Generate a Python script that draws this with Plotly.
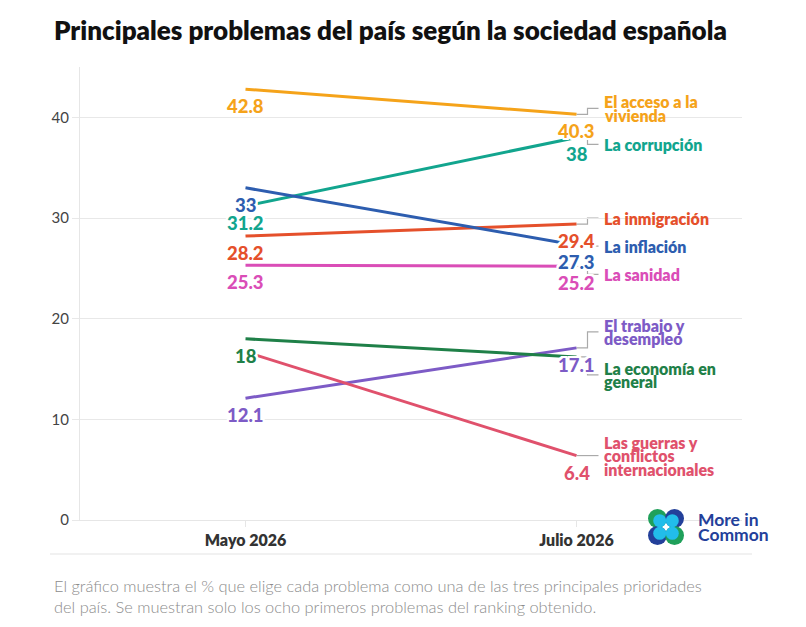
import plotly.graph_objects as go

# ---------------- data ----------------
periods = ["Mayo 2026", "Julio 2026"]
problems = [
    "El acceso a la vivienda",
    "La corrupción",
    "La inmigración",
    "La inflación",
    "La sanidad",
    "El trabajo y desempleo",
    "La economía en general",
    "Las guerras y conflictos internacionales",
]
mayo = [42.8, 31.2, 28.2, 33.0, 25.3, 12.1, 18.0, 16.7]
julio = [40.3, 38.0, 29.4, 27.3, 25.2, 17.1, 16.2, 6.4]
y_ticks = [0, 10, 20, 30, 40]

title_text = "Principales problemas del país según la sociedad española"
footer_lines = [
    "El gráfico muestra el % que elige cada problema como una de las tres principales prioridades",
    "del país. Se muestran solo los ocho primeros problemas del ranking obtenido.",
]

# ---------------- styling / layout ----------------
colors = ["#F5A31A", "#12A58E", "#E5502B", "#2D5DAF", "#DA4DB7", "#7D5BC6", "#1F8048", "#E0516C"]
# which value labels are displayed (others hidden due to overlap)
show_left = [True, True, True, True, True, True, True, False]
show_right = [True, True, True, True, True, True, False, True]
# right label lines and their vertical offsets (px, positive = up) relative to end point
right_lines = [
    ["El acceso a la", "vivienda"],
    ["La corrupción"],
    ["La inmigración"],
    ["La inflación"],
    ["La sanidad"],
    ["El trabajo y", "desempleo"],
    ["La economía en", "general"],
    ["Las guerras y", "conflictos", "internacionales"],
]
right_center = [6, -7, 6, -1, -8, 16, -18, 0]
LINE_H = 13.5

W, H = 806, 627
L, R, T, B = 80, 64, 67, 107
PW, PH = W - L - R, H - T - B


def px_x(px):
    return (px - L) / PW


def px_y(py):
    return (H - B - py) / PH


FONT = "Lato"
halo = ", ".join(f"{dx}px {dy}px 0 #fff" for dx in (-2, -1, 0, 1, 2) for dy in (-2, -1, 0, 1, 2) if dx or dy)

fig = go.Figure()
for name, a, b, c in zip(problems, mayo, julio, colors):
    fig.add_trace(go.Scatter(x=periods, y=[a, b], mode="lines", name=name,
                             line=dict(color=c, width=3), hoverinfo="skip", showlegend=False))

annotations = []
shapes = []
for i, (a, b, c) in enumerate(zip(mayo, julio, colors)):
    if show_left[i]:
        annotations.append(dict(x=periods[0], y=a, xref="x", yref="y", text=f"{a:g}", showarrow=False,
                                yshift=-17, xanchor="center", yanchor="middle",
                                font=dict(family=FONT, size=18.5, weight=900, color=c, shadow=halo)))
    if show_right[i]:
        annotations.append(dict(x=periods[1], y=b, xref="x", yref="y", text=f"{b:g}", showarrow=False,
                                yshift=-17, xanchor="center", yanchor="middle",
                                font=dict(family=FONT, size=18.5, weight=900, color=c, shadow=halo)))
    lines = right_lines[i]
    n = len(lines)
    for k, t in enumerate(lines):
        ys = right_center[i] + ((n - 1) / 2 - k) * LINE_H
        annotations.append(dict(x=periods[1], y=b, xref="x", yref="y", text=t, showarrow=False,
                                xshift=26, yshift=ys, xanchor="left", yanchor="middle", borderpad=0,
                                font=dict(family=FONT, size=16, weight=800, color=c)))
    dy = right_center[i]
    shapes.append(dict(type="path", xref="x", yref="y", xsizemode="pixel", ysizemode="pixel",
                       xanchor=1, yanchor=b,
                       path=f"M 0,0 H 11 V {dy} H 22",
                       line=dict(color="#aaaaaa", width=1.2), layer="below"))

# title
annotations.append(dict(x=px_x(52), y=px_y(30), xref="paper", yref="paper", text=title_text,
                        showarrow=False, xanchor="left", yanchor="middle",
                        font=dict(family=FONT, size=26, weight=800, color="#111111")))

# footer
for k, t in enumerate(footer_lines):
    annotations.append(dict(x=px_x(52), y=px_y(585 + 21 * k), xref="paper", yref="paper", text=t,
                            showarrow=False, xanchor="left", yanchor="middle",
                            font=dict(family=FONT, size=16.4, weight=300, color="#8c8c8c")))
shapes.append(dict(type="line", xref="paper", yref="paper", x0=px_x(50), x1=px_x(752),
                   y0=px_y(554), y1=px_y(554), line=dict(color="#e3e3e3", width=1.2)))

# logo
cx, cy, d, r = 666, 527, 8.5, 9.5
outer = {(-1, -1): "#1FA05A", (1, -1): "#23409A", (-1, 1): "#23409A", (1, 1): "#1FA05A"}
for (sx, sy), col in outer.items():
    x0, y0 = cx + sx * d, cy + sy * d
    shapes.append(dict(type="circle", xref="paper", yref="paper",
                       x0=px_x(x0 - r), x1=px_x(x0 + r), y0=px_y(y0 - r), y1=px_y(y0 + r),
                       fillcolor=col, line=dict(width=0)))
for (sx, sy), col in outer.items():
    x0, y0 = cx + sx * (d - 2.2), cy + sy * (d - 2.2)
    ri = r - 3
    shapes.append(dict(type="circle", xref="paper", yref="paper",
                       x0=px_x(x0 - ri), x1=px_x(x0 + ri), y0=px_y(y0 - ri), y1=px_y(y0 + ri),
                       fillcolor="#22BDEA", line=dict(width=0)))
for k, t in enumerate(["More in", "Common"]):
    annotations.append(dict(x=px_x(697), y=px_y(519 + 15 * k), xref="paper", yref="paper", text=t,
                            showarrow=False, xanchor="left", yanchor="middle", borderpad=0,
                            font=dict(family=FONT, size=17.5, weight=700, color="#23409A")))

fig.update_layout(
    width=W, height=H,
    margin=dict(l=L, r=R, t=T, b=B),
    paper_bgcolor="white", plot_bgcolor="white",
    annotations=annotations, shapes=shapes,
    showlegend=False,
    xaxis=dict(type="category", range=[-0.5, 1.5], showgrid=False, showline=True, linecolor="#e6e6e6",
               linewidth=1, ticks="outside", ticklen=6, tickcolor="#e6e6e6",
               tickfont=dict(family=FONT, size=16, weight=800, color="#333333"), fixedrange=True),
    yaxis=dict(range=[0, 45], tickvals=y_ticks, showgrid=True, gridcolor="#e8e8e8", gridwidth=1,
               showline=True, linecolor="#e6e6e6", zeroline=False, ticks="outside", ticklen=7,
               tickcolor="#e8e8e8", tickfont=dict(family=FONT, size=15, color="#444444"), fixedrange=True),
)

fig.write_html("out.html")
